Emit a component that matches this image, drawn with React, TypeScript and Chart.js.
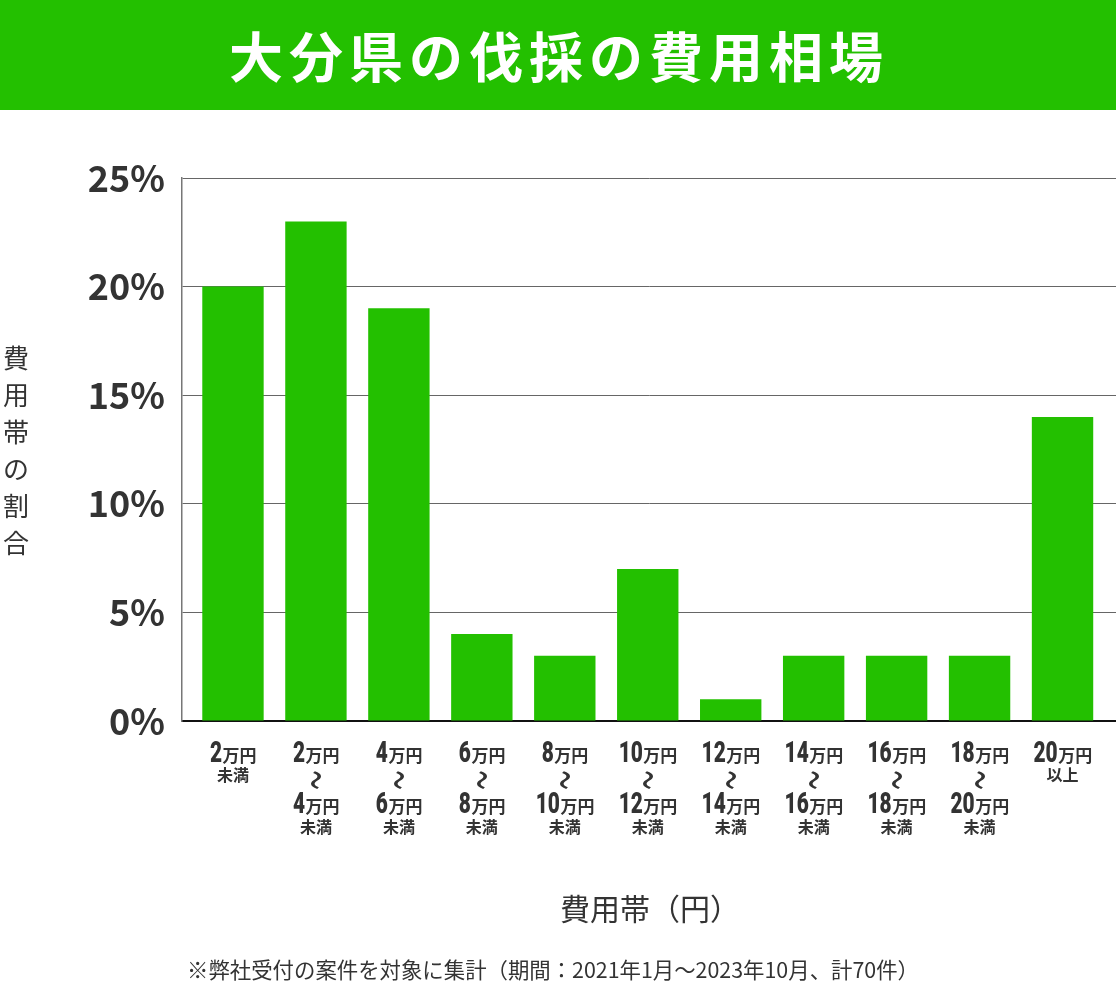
import React, { useEffect, useRef } from 'react';
import { Chart, registerables } from 'chart.js';

Chart.register(...registerables);

const titleText = '大分県の伐採の費用相場';
const yTitle = '費用帯の割合';
const xTitle = '費用帯（円）';
const footnote = '※弊社受付の案件を対象に集計（期間：2021年1月～2023年10月、計70件）';

const categories = [
  '2万円未満',
  '2万円～4万円未満',
  '4万円～6万円未満',
  '6万円～8万円未満',
  '8万円～10万円未満',
  '10万円～12万円未満',
  '12万円～14万円未満',
  '14万円～16万円未満',
  '16万円～18万円未満',
  '18万円～20万円未満',
  '20万円以上',
];
const shares = [20, 23, 19, 4, 3, 7, 1, 3, 3, 3, 14];
const xTickLines = [
  ['2万円', '未満'],
  ['2万円', '〜', '4万円', '未満'],
  ['4万円', '〜', '6万円', '未満'],
  ['6万円', '〜', '8万円', '未満'],
  ['8万円', '〜', '10万円', '未満'],
  ['10万円', '〜', '12万円', '未満'],
  ['12万円', '〜', '14万円', '未満'],
  ['14万円', '〜', '16万円', '未満'],
  ['16万円', '〜', '18万円', '未満'],
  ['18万円', '〜', '20万円', '未満'],
  ['20万円', '以上'],
];
const yMin = 0;
const yMax = 25;
const yStep = 5;

const GREEN = '#23c000';
const TEXT = '#333333';
const CJK = '"Noto Sans CJK JP", "Noto Sans", sans-serif';
const NUM = 'Roboto, "Noto Sans", sans-serif';

function drawMoney(ctx: CanvasRenderingContext2D, text: string, cx: number, baseline: number) {
  const m = text.match(/^(\d+)(.*)$/);
  const num = m ? m[1] : '';
  const unit = m ? m[2] : text;
  const sx = 0.72;
  ctx.font = `900 29px ${NUM}`;
  const nw = ctx.measureText(num).width * sx;
  ctx.font = `bold 17px ${CJK}`;
  const uw = ctx.measureText(unit).width;
  const start = cx - (nw + uw) / 2;
  ctx.save();
  ctx.textAlign = 'left';
  ctx.textBaseline = 'alphabetic';
  ctx.translate(start, baseline);
  ctx.scale(sx, 1);
  ctx.font = `900 29px ${NUM}`;
  ctx.fillText(num, 0, 0);
  ctx.restore();
  ctx.save();
  ctx.textAlign = 'left';
  ctx.textBaseline = 'alphabetic';
  ctx.font = `bold 17px ${CJK}`;
  ctx.fillText(unit, start + nw + 0.5, baseline - 0.5);
  ctx.restore();
}

const overlayPlugin = {
  id: 'overlay',
  beforeDraw(chart: any) {
    const ctx: CanvasRenderingContext2D = chart.ctx;
    const w = chart.width;
    ctx.save();
    ctx.fillStyle = '#ffffff';
    ctx.fillRect(0, 0, w, chart.height);
    ctx.fillStyle = GREEN;
    ctx.fillRect(0, 0, w, 110);
    ctx.fillStyle = '#ffffff';
    ctx.font = `bold 54px ${CJK}`;
    ctx.textBaseline = 'middle';
    ctx.textAlign = 'center';
    const chars = Array.from(titleText);
    const step = 60;
    const total = step * chars.length;
    const x0 = 556 - total / 2 + step / 2;
    chars.forEach((c, i) => ctx.fillText(c, x0 + i * step, 57));
    ctx.restore();
  },
  afterDraw(chart: any) {
    const ctx: CanvasRenderingContext2D = chart.ctx;
    const xs = chart.scales.x;
    ctx.save();
    ctx.fillStyle = TEXT;
    xTickLines.forEach((lines, i) => {
      const cx = xs.getPixelForValue(i);
      if (lines.length === 2) {
        drawMoney(ctx, lines[0], cx, 762);
        ctx.font = `bold 16px ${CJK}`;
        ctx.textAlign = 'center';
        ctx.textBaseline = 'middle';
        ctx.fillText(lines[1], cx, 775);
      } else {
        drawMoney(ctx, lines[0], cx, 762);
        ctx.save();
        ctx.translate(cx, 780);
        ctx.rotate(Math.PI / 2);
        ctx.scale(0.8, 1.5);
        ctx.font = `500 24px ${CJK}`;
        ctx.textAlign = 'center';
        ctx.textBaseline = 'middle';
        ctx.fillText(lines[1], 0, 0);
        ctx.restore();
        drawMoney(ctx, lines[2], cx, 813);
        ctx.font = `bold 16px ${CJK}`;
        ctx.textAlign = 'center';
        ctx.textBaseline = 'middle';
        ctx.fillText(lines[3], cx, 827);
      }
    });
    ctx.font = `26px ${CJK}`;
    ctx.textAlign = 'center';
    ctx.textBaseline = 'middle';
    Array.from(yTitle).forEach((c, i) => ctx.fillText(c, 16, 358 + i * 37));
    ctx.font = `30px ${CJK}`;
    ctx.fillText(xTitle, 650, 909);
    ctx.font = `21.4px ${CJK}`;
    ctx.fillText(footnote, 553, 970);
    ctx.restore();
  },
};

export default function App() {
  const ref = useRef<HTMLCanvasElement | null>(null);
  useEffect(() => {
    if (!ref.current) return;
    const chart = new Chart(ref.current, {
      type: 'bar',
      data: {
        labels: categories,
        datasets: [
          {
            data: shares.map((v, i) => ({ x: i, y: v })),
            backgroundColor: GREEN,
            borderWidth: 0,
            barPercentage: 0.74,
            categoryPercentage: 1,
          },
        ],
      },
      options: {
        responsive: false,
        animation: false,
        devicePixelRatio: 1,
        layout: { padding: { top: 178, left: 0, right: 0, bottom: 0 } },
        plugins: { legend: { display: false }, tooltip: { enabled: false }, title: { display: false } },
        scales: {
          x: {
            type: 'linear',
            offset: false,
            min: -0.6145,
            max: 10.6446,
            ticks: { display: false },
            grid: { display: false },
            border: { color: '#111111', width: 2 },
            afterFit: (s: any) => {
              s.height = 268;
            },
          },
          y: {
            min: yMin,
            max: yMax,
            ticks: {
              stepSize: yStep,
              padding: 17,
              color: TEXT,
              font: { family: CJK, size: 36, weight: 'bold' },
              callback: (v: any) => `${v}%`,
            },
            grid: { color: '#666666', lineWidth: 1, drawTicks: false },
            border: { color: '#777777', width: 1.5 },
            afterFit: (s: any) => {
              s.width = 182;
            },
          },
        },
      } as any,
      plugins: [overlayPlugin],
    });
    return () => chart.destroy();
  }, []);
  return (
    <div style={{ position: 'absolute', left: 0, top: 0, width: 1116, height: 989 }}>
      <canvas ref={ref} width={1116} height={989} style={{ width: 1116, height: 989, display: 'block' }} />
    </div>
  );
}
